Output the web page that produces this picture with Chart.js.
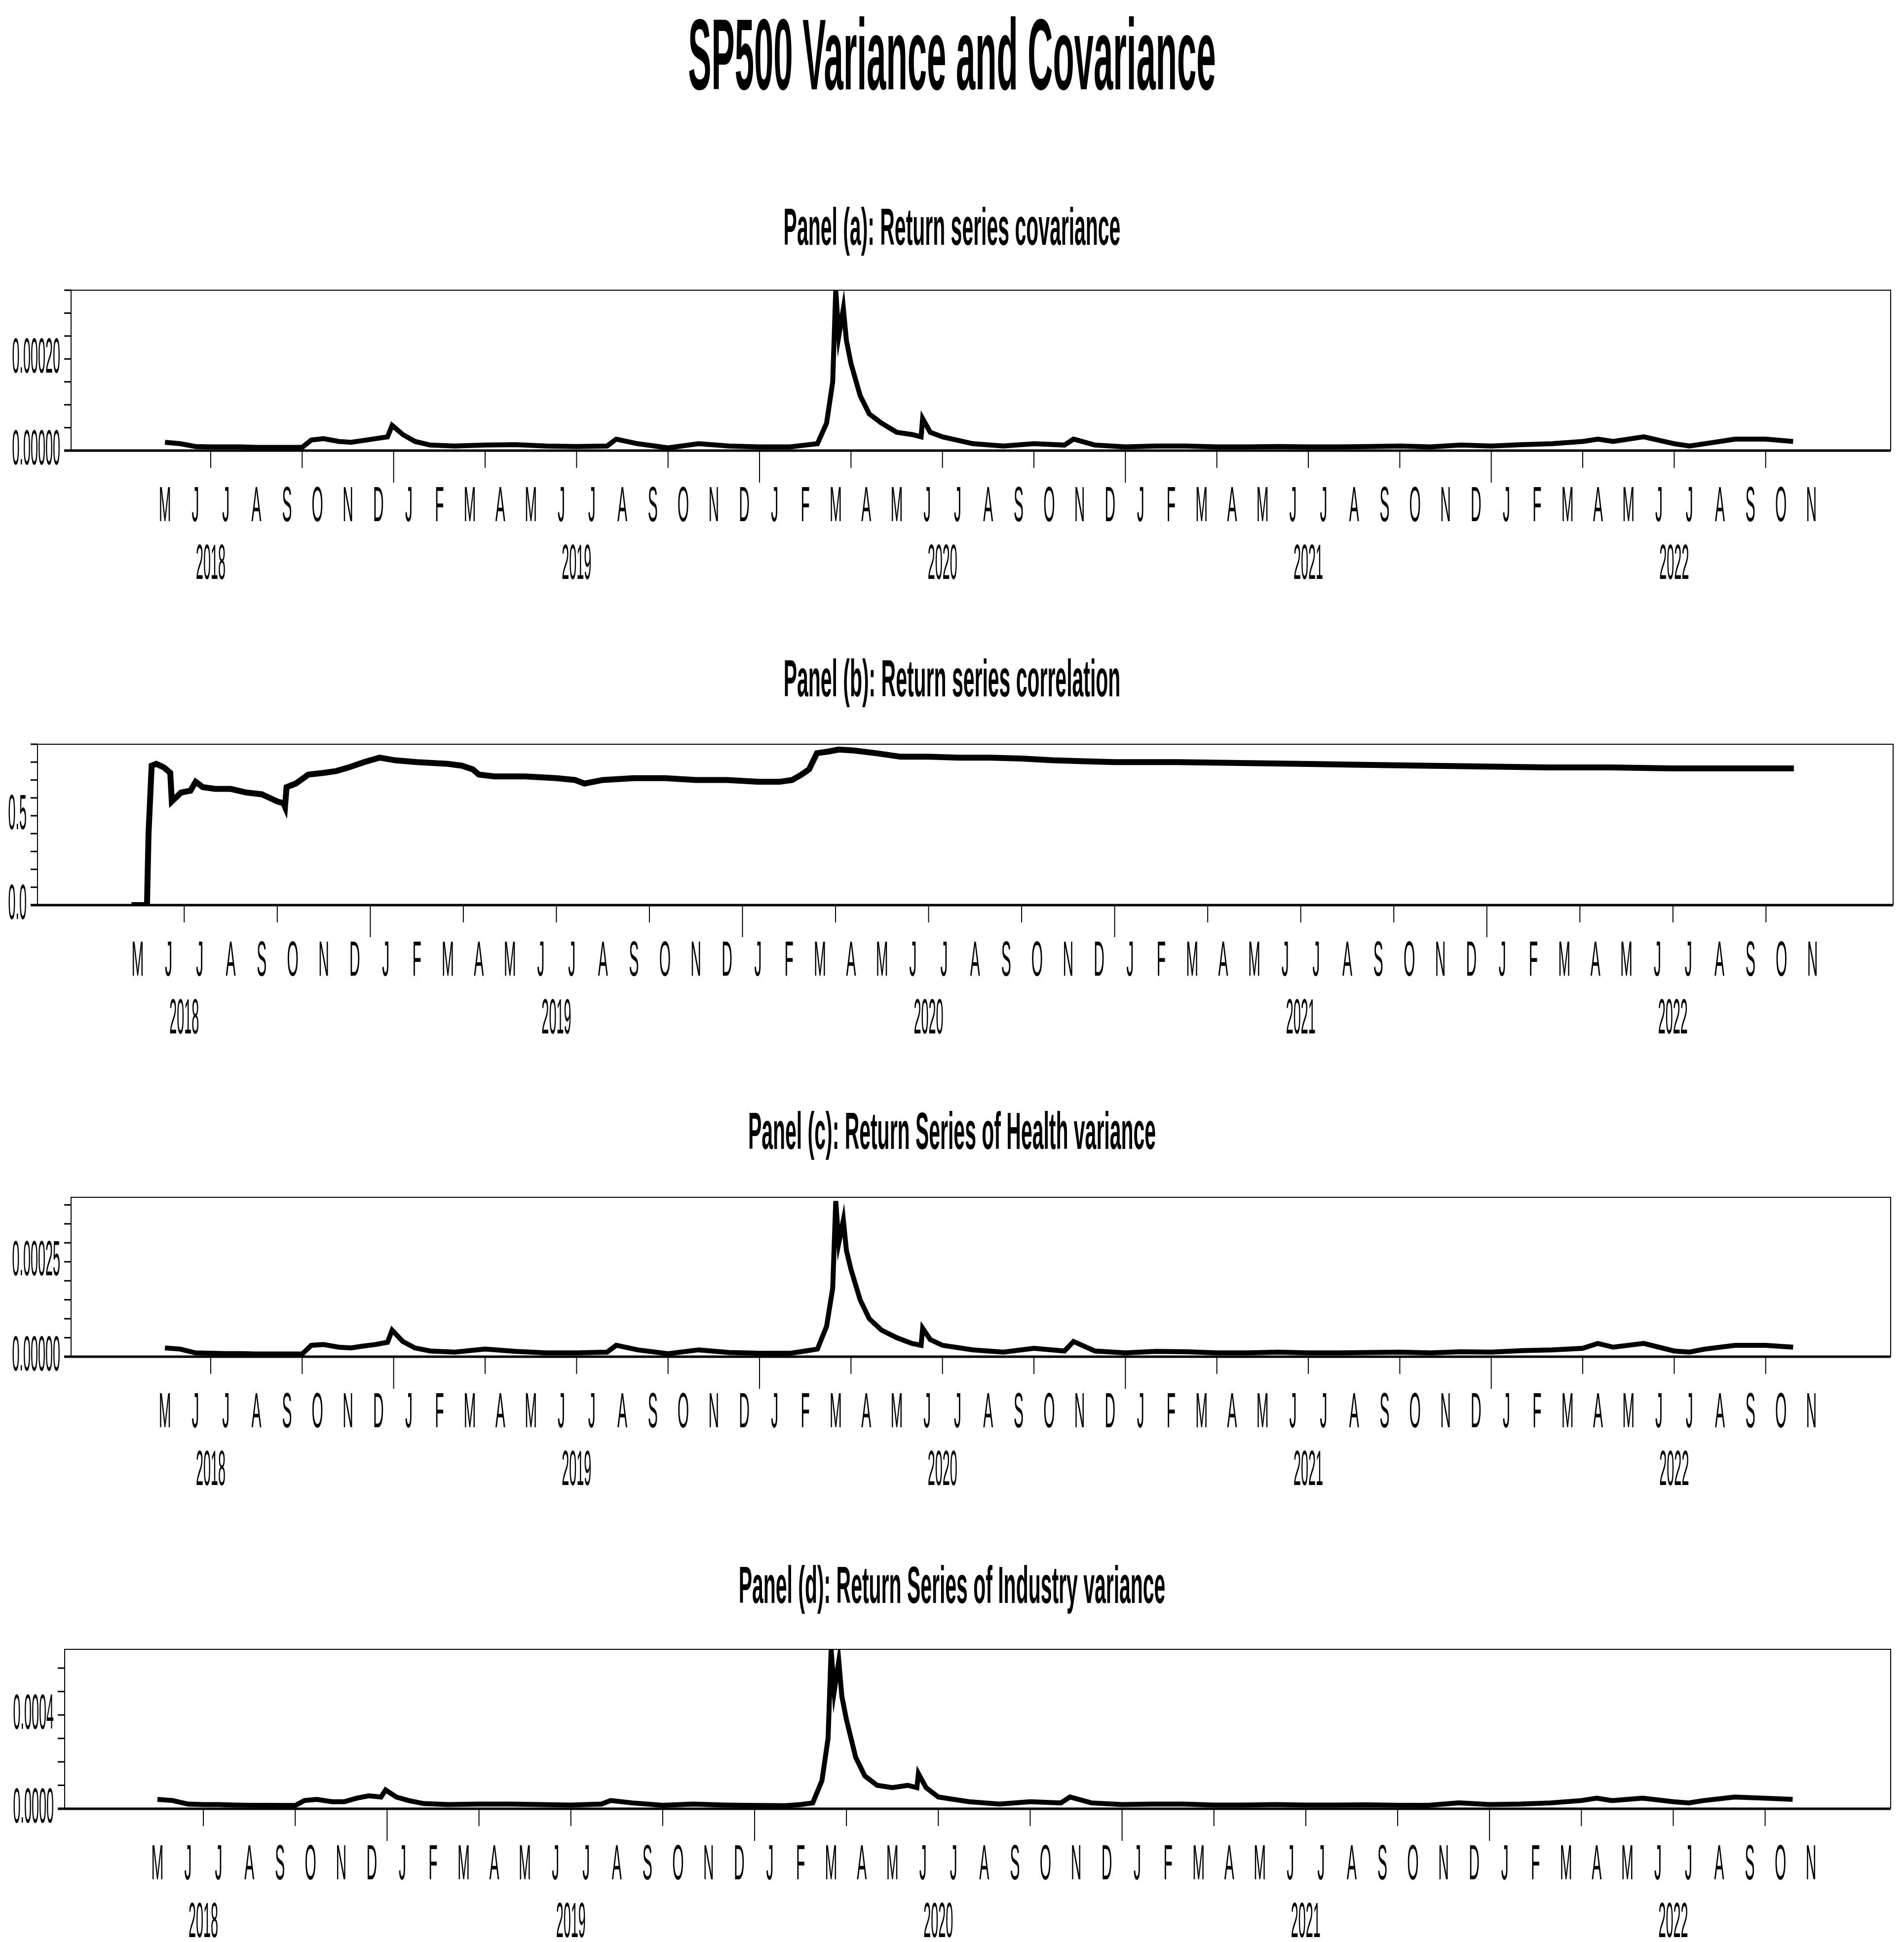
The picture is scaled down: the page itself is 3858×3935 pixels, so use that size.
<!DOCTYPE html>
<html>
<head>
<meta charset="utf-8">
<script src="https://cdn.jsdelivr.net/npm/chart.js@4"></script>
<style>
  body { margin: 0; background: #fff; width: 3858px; height: 3935px; position: relative; overflow: hidden; }
  .title { position: absolute; left: 0; width: 3858px; text-align: center; font-family: "Liberation Sans", Arial, sans-serif; font-weight: bold; color: #000; white-space: nowrap; transform-origin: 50% 50%; }
  canvas { position: absolute; left: 0; }
</style>
</head>
<body>
<div class="title" style="top:-8px;font-size:205px;transform:scaleX(0.345)">SP500 Variance and Covariance</div>
<div class="title" style="top:400px;font-size:105px;transform:scaleX(0.39)">Panel (a): Return series covariance</div>
<div class="title" style="top:1315px;font-size:105px;transform:scaleX(0.39)">Panel (b): Return series correlation</div>
<div class="title" style="top:2232px;font-size:105px;transform:scaleX(0.39)">Panel (c): Return Series of Health variance</div>
<div class="title" style="top:3152px;font-size:105px;transform:scaleX(0.39)">Panel (d): Return Series of Industry variance</div>
<canvas id="chartA"></canvas>
<canvas id="chartB"></canvas>
<canvas id="chartC"></canvas>
<canvas id="chartD"></canvas>
<script>
// x values are months since Jan 2018 (0 = 1 Jan 2018)
const monthLetters = ['J','F','M','A','M','J','J','A','S','O','N','D'];
const yearLabels = ['2018', '2019', '2020', '2021', '2022'];

const varDates = [4.5,5.0,5.5,6,6.5,7,7.5,8,8.5,9.0,9.3,9.7,10.2,10.6,11,11.4,11.8,11.95,12.3,12.7,13.2,14,15,16,17,18,19,19.3,20,21,22,23,24,25,25.5,25.9,26.2,26.4,26.5,26.6,26.75,26.85,27,27.3,27.6,28,28.5,29,29.3,29.35,29.6,30,31,32,33,34,34.3,35,36,37,38,39,40,41,42,43,44,45,46,47,48,49,50,51,51.5,52,53,54,54.5,55,56,57,57.9];

// values in units of 1e-5
const covValues = [1.8,1.5,0.9,0.8,0.8,0.8,0.7,0.7,0.7,0.7,2.3,2.6,2.0,1.8,2.2,2.6,3.0,5.5,3.5,2.0,1.2,1.0,1.2,1.3,1.0,0.9,1.0,2.5,1.5,0.6,1.5,1.0,0.8,0.8,1.2,1.5,6,15,35,25,31,24,19,12,8,6,4,3.5,3.0,7,4,3,1.5,1,1.5,1.2,2.5,1.2,0.8,1.0,1.0,0.8,0.8,0.9,0.8,0.8,0.9,1.0,0.8,1.2,1.0,1.3,1.5,2.0,2.5,2.0,3.0,1.5,1.0,1.5,2.5,2.5,2.0];
const healthValues = [2.3,2.0,1.0,0.9,0.8,0.8,0.7,0.7,0.7,0.7,3.0,3.2,2.5,2.3,2.8,3.2,3.8,7,4.0,2.3,1.5,1.2,2.0,1.4,1.0,1.0,1.2,3.0,1.8,0.8,1.8,1.1,0.9,0.9,1.5,2.0,8,18,41,30,36,28,23,15,10,7,5,3.5,3,7.5,4.5,3,1.8,1.2,2.2,1.5,4.0,1.5,1,1.4,1.3,1,1,1.2,1.0,1,1.1,1.2,1,1.3,1.2,1.6,1.8,2.2,3.5,2.5,3.5,1.5,1.2,2,3,3,2.5];
const industryValues = [4,3.5,2.0,1.8,1.8,1.6,1.5,1.5,1.4,1.4,3.5,4.0,3.0,3.0,4.5,5.5,5,8,5,3.5,2.2,1.8,2.0,2.0,1.8,1.6,2.0,3.5,2.5,1.5,2.0,1.6,1.4,1.3,1.8,2.5,12,30,68,50,63,48,38,22,14,10,9,10,9,15,9,5,3,2.0,3,2.5,5,2.5,1.8,2,2.0,1.6,1.6,1.8,1.6,1.6,1.7,1.5,1.5,2.5,1.8,2.0,2.5,3.5,4.5,3.5,4.5,3.0,2.5,3.5,5,4.5,4];

const corrDates = [4.3,4.8,4.85,4.95,5.1,5.35,5.55,5.6,5.9,6.2,6.37,6.6,7,7.5,8,8.5,9.0,9.2,9.25,9.3,9.6,10,10.5,10.9,11.3,11.8,12.3,12.8,13.5,14.5,14.95,15.3,15.5,16,17,18,18.6,18.9,19.5,20.5,21.5,22.5,23.5,24.5,25.2,25.6,25.9,26.15,26.4,26.8,27.1,27.6,28.3,29.1,30,31,32,33,34,35,36,38,40,42,44,46,48,50,52,54,56,57.9];
const corrValues = [0,0,0.4,0.78,0.79,0.77,0.74,0.58,0.63,0.64,0.69,0.66,0.65,0.65,0.63,0.62,0.58,0.57,0.55,0.66,0.68,0.73,0.74,0.75,0.77,0.80,0.825,0.81,0.80,0.79,0.78,0.76,0.73,0.72,0.72,0.71,0.70,0.68,0.70,0.71,0.71,0.70,0.70,0.69,0.69,0.70,0.73,0.76,0.85,0.86,0.87,0.865,0.85,0.83,0.83,0.825,0.825,0.82,0.81,0.805,0.80,0.80,0.795,0.79,0.785,0.78,0.775,0.77,0.77,0.765,0.765,0.765];

const FONT = '"Liberation Sans", Arial, sans-serif';

function narrowText(ctx, text, x, y, size, sx, align) {
  ctx.save();
  ctx.font = size + 'px ' + FONT;
  ctx.textBaseline = 'middle';
  const w = ctx.measureText(text).width * sx;
  let left = x - w / 2;
  if (align === 'right') left = x - w;
  ctx.translate(left, y);
  ctx.scale(sx, 1);
  ctx.textAlign = 'left';
  ctx.fillStyle = '#000';
  ctx.fillText(text, 0, 0);
  ctx.restore();
}

// frame, ticks and compressed axis labels drawn on the library's scales
const axisPlugin = {
  id: 'axisPlugin',
  afterDraw(chart, args, opts) {
    const ctx = chart.ctx;
    const a = chart.chartArea;
    const xs = chart.scales.x, ys = chart.scales.y;
    ctx.save();
    ctx.strokeStyle = '#000';
    ctx.lineWidth = 2;
    ctx.beginPath();
    ctx.moveTo(a.left, a.bottom); ctx.lineTo(a.left, a.top);
    ctx.lineTo(a.right, a.top); ctx.lineTo(a.right, a.bottom);
    ctx.stroke();
    ctx.lineWidth = 5;
    ctx.beginPath();
    ctx.moveTo(a.left - 14, a.bottom); ctx.lineTo(a.right, a.bottom);
    ctx.stroke();
    // y ticks
    ctx.lineWidth = 3;
    for (let v = 0; v <= opts.yMax + 1e-12; v += opts.yStep) {
      const py = ys.getPixelForValue(v);
      ctx.beginPath(); ctx.moveTo(a.left - 14, py); ctx.lineTo(a.left, py); ctx.stroke();
    }
    opts.yLabels.forEach(v => {
      narrowText(ctx, v.toFixed(opts.yDigits), a.left - 22, ys.getPixelForValue(v), 100, 0.27, 'right');
    });
    // x ticks at quarter boundaries, long at year start
    ctx.lineWidth = 2;
    for (let m = 6; m <= 57; m += 3) {
      const px = xs.getPixelForValue(m);
      const len = (m % 12 === 0) ? 65 : 35;
      ctx.beginPath(); ctx.moveTo(px, a.bottom); ctx.lineTo(px, a.bottom + len); ctx.stroke();
    }
    for (let m = 4; m <= 58; m++) {
      narrowText(ctx, monthLetters[m % 12], xs.getPixelForValue(m + 0.5), a.bottom + 115, 100, 0.3);
    }
    yearLabels.forEach((y, i) => {
      narrowText(ctx, y, xs.getPixelForValue(i * 12 + 6), a.bottom + 232, 100, 0.27);
    });
    ctx.restore();
  }
};

function makeChart(id, box, dates, values, unit, yMax, yStep, yLabels, yDigits, xMin, lineWidth) {
  const canvas = document.getElementById(id);
  const top = box.top - 90;
  const height = box.bottom - box.top + 90 + 320;
  canvas.width = 3858; canvas.height = height;
  canvas.style.top = top + 'px';
  canvas.style.width = '3858px'; canvas.style.height = height + 'px';
  new Chart(canvas.getContext('2d'), {
    type: 'line',
    data: {
      datasets: [{
        data: dates.map((d, i) => ({ x: d, y: values[i] * unit })),
        borderColor: '#000',
        borderWidth: lineWidth,
        pointRadius: 0,
        tension: 0,
        fill: false
      }]
    },
    options: {
      responsive: false,
      animation: false,
      devicePixelRatio: 1,
      parsing: false,
      layout: { padding: { left: box.left, right: 3858 - box.right, top: 90, bottom: 320 } },
      plugins: {
        legend: { display: false },
        tooltip: { enabled: false },
        axisPlugin: { yMax: yMax, yStep: yStep, yLabels: yLabels, yDigits: yDigits }
      },
      scales: {
        x: {
          type: 'linear', min: xMin, max: 61.1,
          ticks: { display: false }, grid: { display: false }, border: { display: false },
          afterFit: s => { s.height = 0; }
        },
        y: {
          min: 0, max: yMax,
          ticks: { display: false }, grid: { display: false }, border: { display: false },
          afterFit: s => { s.width = 0; }
        }
      }
    },
    plugins: [axisPlugin]
  });
}

makeChart('chartA', { left: 144, right: 3831, top: 588, bottom: 913 }, varDates, covValues, 1e-5, 0.00035, 0.00005, [0, 0.0002], 5, 1.42, 10);
makeChart('chartB', { left: 76, right: 3836, top: 1508, bottom: 1834 }, corrDates, corrValues, 1, 0.9, 0.1, [0, 0.5], 1, 1.27, 12);
makeChart('chartC', { left: 144, right: 3831, top: 2426, bottom: 2749 }, varDates, healthValues, 1e-5, 0.00042, 0.00005, [0, 0.00025], 5, 1.42, 10);
makeChart('chartD', { left: 131, right: 3831, top: 3342, bottom: 3665 }, varDates, industryValues, 1e-5, 0.00068, 0.0001, [0, 0.0004], 4, 1.47, 10);
</script>
</body>
</html>
